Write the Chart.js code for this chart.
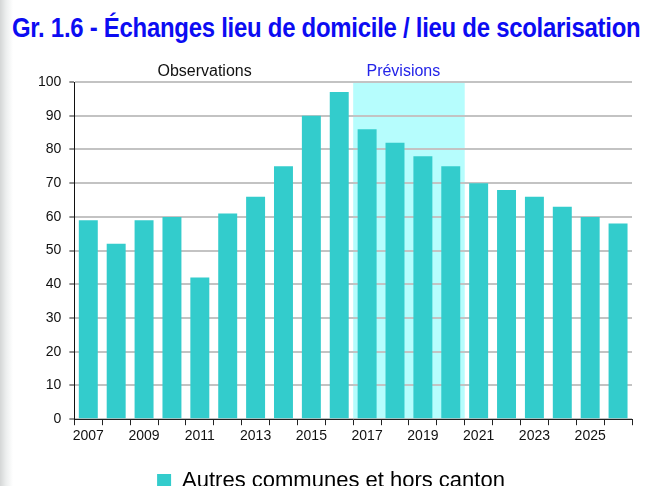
<!DOCTYPE html>
<html>
<head>
<meta charset="utf-8">
<script src="https://cdn.jsdelivr.net/npm/chart.js@4"></script>
<style>
  html, body { margin: 0; padding: 0; overflow: hidden; }
  body { width: 650px; height: 486px; background: linear-gradient(to right, #d4d6d6 0px, #eceeee 6px, #ffffff 13px); position: relative; }
  #title { position: absolute; left: 12px; top: 12px; white-space: nowrap; margin: 0;
    font: bold 28px "Liberation Sans", Arial, sans-serif; color: #0c0cf2;
    transform-origin: left top; letter-spacing: -0.3px; }
  #wrap { position: absolute; left: 0; top: 0; }
</style>
</head>
<body>
<div id="title">Gr. 1.6 - Échanges lieu de domicile / lieu de scolarisation</div>
<div id="wrap"><canvas id="plots" width="650" height="502"></canvas></div>
<script>
/* data */
var years = ['2007', '2008', '2009', '2010', '2011', '2012', '2013', '2014', '2015', '2016',
             '2017', '2018', '2019', '2020', '2021', '2022', '2023', '2024', '2025', '2026'];
var exchanges = [59, 52, 59, 60, 42, 61, 66, 75, 90, 97,
                 86, 82, 78, 75, 70, 68, 66, 63, 60, 58];
var seriesName = 'Autres communes et hors canton';
var forecastFrom = '2017';
var forecastTo = '2020';

/* squeeze the title to the width it has in the picture */
var title = document.getElementById('title');
title.style.transform = 'scaleX(' + (628 / title.scrollWidth) + ')';

// light cyan band behind the forecast years, plus the two captions
var periodPlugin = {
    id: 'period',
    beforeDraw: function(chart) {
        var ctx = chart.ctx;
        var x = chart.scales.x, y = chart.scales.y;
        var half = (x.getPixelForValue(1) - x.getPixelForValue(0)) / 2;
        var x0 = x.getPixelForValue(years.indexOf(forecastFrom)) - half;
        var x1 = x.getPixelForValue(years.indexOf(forecastTo)) + half;
        ctx.save();
        ctx.fillStyle = '#b6fdfd';
        ctx.fillRect(x0, y.getPixelForValue(100) - 1, x1 - x0, y.getPixelForValue(0) - y.getPixelForValue(100) + 1);
        ctx.restore();
    },
    afterDraw: function(chart) {
        var ctx = chart.ctx;
        var x = chart.scales.x, y = chart.scales.y;
        var top = y.getPixelForValue(100) - 10;
        ctx.save();
        ctx.font = '16px "Liberation Sans", Arial, sans-serif';
        ctx.textAlign = 'center';
        ctx.textBaseline = 'middle';
        ctx.fillStyle = '#111111';
        ctx.fillText('Observations', x.getPixelForValue(4.17), top);
        ctx.fillStyle = '#2323e8';
        ctx.fillText('Prévisions', x.getPixelForValue(11.3), top);
        ctx.restore();
    }
};

function loadChart() {
    var popCanvas = document.getElementById('plots').getContext('2d');

    var barChart = new Chart(popCanvas, {
        type: 'bar',
        data: {
            labels: years,
            datasets: [{
                label: seriesName,
                data: exchanges,
                backgroundColor: '#33cccc',
                categoryPercentage: 1,
                barPercentage: 0.68
            }]
        },
        options: {
            responsive: false,
            animation: false,
            layout: { padding: { top: 82, left: 30, right: 18, bottom: 0 } },
            plugins: {
                title: { display: false },
                tooltip: { enabled: false },
                legend: {
                    position: 'bottom',
                    labels: {
                        boxWidth: 14,
                        boxHeight: 14,
                        padding: 6,
                        color: '#000',
                        font: { family: '"Liberation Sans", Arial, sans-serif', size: 22 }
                    }
                }
            },
            scales: {
                x: {
                    offset: true,
                    grid: { offset: true, drawOnChartArea: false, tickLength: 6, color: '#222' },
                    border: { color: '#222' },
                    ticks: {
                        autoSkip: false,
                        maxRotation: 0,
                        padding: 3,
                        color: '#111',
                        font: { family: '"Liberation Sans", Arial, sans-serif', size: 14 },
                        callback: function(value, index) { return index % 2 === 0 ? years[index] : ''; }
                    },
                    // leave room between the year labels and the legend
                    afterFit: function(scale) { scale.height += 16; }
                },
                y: {
                    min: 0,
                    max: 100,
                    ticks: {
                        stepSize: 10,
                        padding: 8,
                        color: '#111',
                        font: { family: '"Liberation Sans", Arial, sans-serif', size: 14 }
                    },
                    grid: { color: '#c3c3c3', lineWidth: 2, tickColor: '#222', tickWidth: 1, tickLength: 5 },
                    border: { color: '#111', width: 1 }
                }
            }
        },
        plugins: [periodPlugin]
    });
}

loadChart();
</script>
</body>
</html>
